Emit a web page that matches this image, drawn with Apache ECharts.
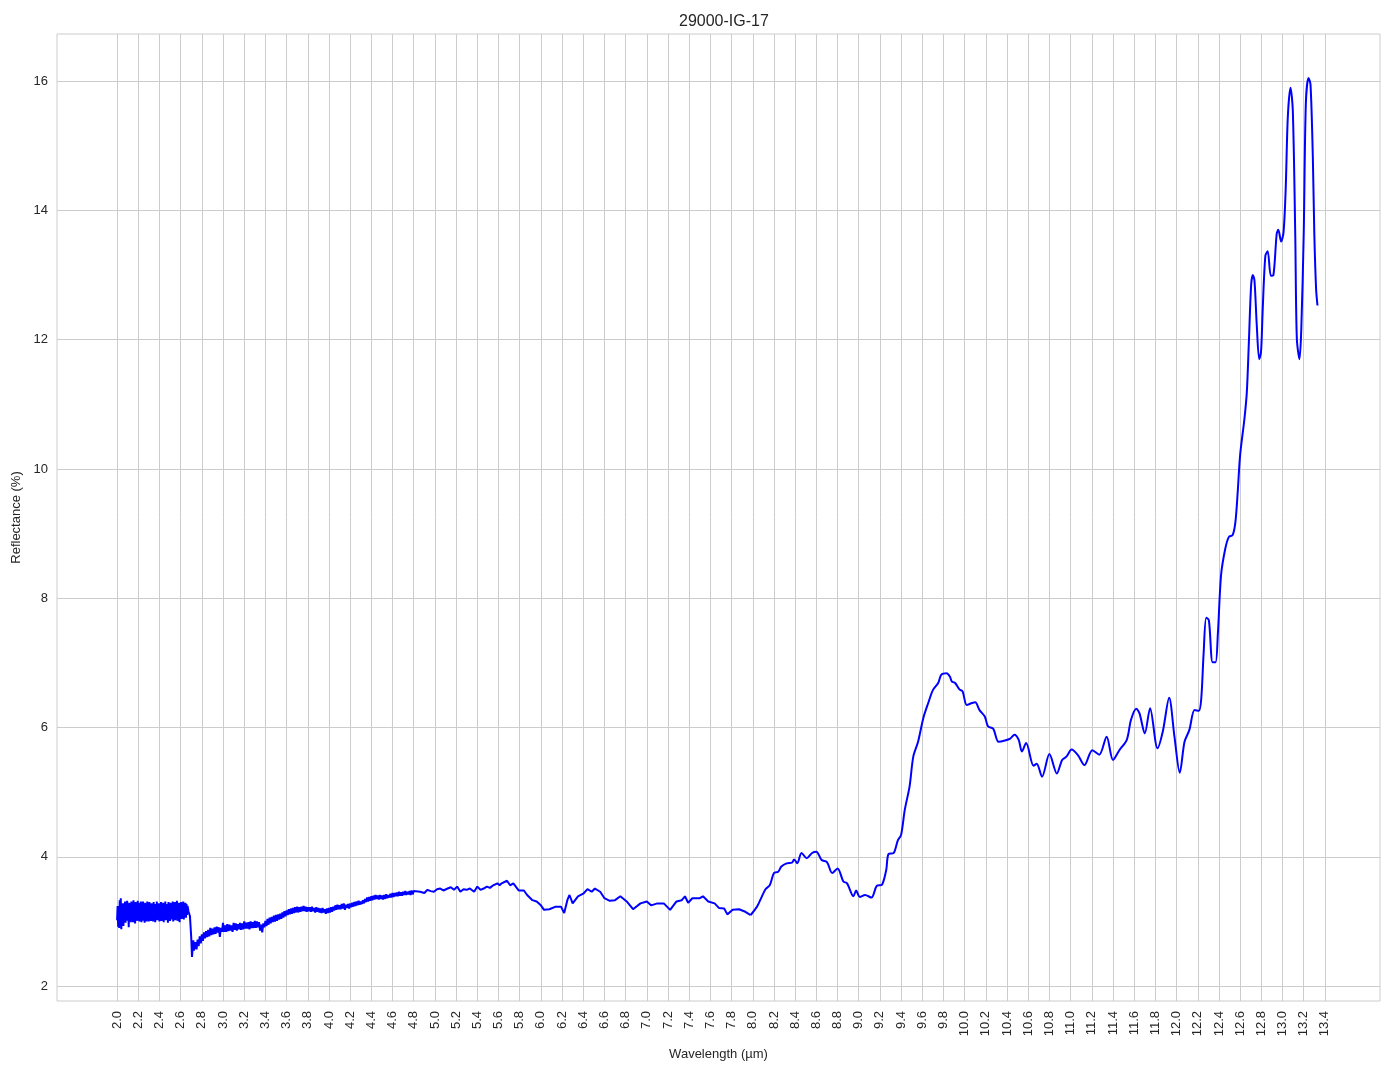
<!DOCTYPE html>
<html>
<head>
<meta charset="utf-8">
<script src="https://cdn.jsdelivr.net/npm/echarts@6/dist/echarts.min.js"></script>
<style>
html,body{margin:0;padding:0;background:#fff;}
#chart{width:1394px;height:1069px;}
</style>
</head>
<body>
<div id="chart"></div>
<script>
// ---- data ----
const chartTitle = '29000-IG-17';
const xName = 'Wavelength (µm)';
const yName = 'Reflectance (%)';

const xTicks = [2.0,2.2,2.4,2.6,2.8,3.0,3.2,3.4,3.6,3.8,4.0,4.2,4.4,4.6,4.8,5.0,5.2,5.4,5.6,5.8,6.0,6.2,6.4,6.6,6.8,7.0,7.2,7.4,7.6,7.8,8.0,8.2,8.4,8.6,8.8,9.0,9.2,9.4,9.6,9.8,10.0,10.2,10.4,10.6,10.8,11.0,11.2,11.4,11.6,11.8,12.0,12.2,12.4,12.6,12.8,13.0,13.2,13.4];
const yTicks = [2,4,6,8,10,12,14,16];

// noisy band 2.000 - 2.665 µm, sampled every 0.005 µm
const bandAStart = 2.0, bandAStep = 0.005;
const bandAValues = [
3.02,3.24,2.92,3.20,2.90,3.33,2.98,3.36,2.88,
3.22,3.02,3.28,2.93,3.25,3.04,3.31,2.98,3.27,3.05,
3.32,3.01,3.25,2.91,3.29,3.03,3.23,2.99,3.31,3.06,
3.28,2.99,3.33,3.02,3.24,2.97,3.30,3.04,3.26,3.01,
3.32,3.03,3.29,3.00,3.25,3.04,3.31,2.99,3.27,3.05,
3.31,3.01,3.24,2.98,3.29,3.05,3.26,3.00,3.31,3.03,
3.26,3.00,3.30,3.04,3.24,3.01,3.28,3.05,3.25,3.00,
3.30,3.03,3.27,2.99,3.25,3.05,3.31,3.02,3.24,3.04,
3.28,3.00,3.26,3.05,3.30,3.01,3.25,3.03,3.29,2.99,
3.25,3.05,3.31,3.02,3.27,3.04,3.24,2.98,3.30,3.05,
3.26,3.01,3.29,3.05,3.25,3.03,3.31,3.00,3.27,3.06,
3.30,3.02,3.25,3.06,3.32,3.01,3.26,3.05,3.29,2.99,
3.28,3.06,3.30,3.04,3.25,3.07,3.31,3.03,3.27,3.08,
3.29,3.06,3.27,3.10,3.24
];

// drop near 2.7 µm
const dropPoints = [[2.675,3.15],[2.688,3.08],[2.700,2.75],[2.707,2.45],[2.715,2.62],[2.720,2.71],[2.725,2.55]];

// band 2.73 - 3.80 µm, sampled every 0.01 µm
const bandBStart = 2.73, bandBStep = 0.01;
const bandBValues = [
2.52,2.68,2.57,2.72,2.62,2.77,2.66,2.80,2.70,2.83,
2.74,2.85,2.76,2.87,2.77,2.90,2.79,2.89,2.80,2.91,
2.81,2.92,2.83,2.91,2.76,2.90,2.84,2.98,2.84,2.94,
2.84,2.96,2.85,2.95,2.86,2.94,2.84,2.98,2.87,2.97,
2.86,2.96,2.88,2.98,2.87,2.97,2.88,3.00,2.89,2.98,
2.89,2.99,2.88,3.00,2.90,2.99,2.90,3.01,2.90,3.00,
2.91,2.99,2.86,2.95,2.83,2.97,2.91,3.01,2.93,3.04,
2.95,3.06,2.97,3.07,2.99,3.09,3.00,3.10,3.01,3.11,
3.03,3.12,3.04,3.14,3.06,3.16,3.08,3.17,3.10,3.19,
3.11,3.20,3.12,3.21,3.13,3.22,3.14,3.23,3.14,3.22,
3.15,3.23,3.16,3.24,3.16,3.23,3.15,3.22
];

// band 3.81 - 4.80 µm, sampled every 0.01 µm
const bandCStart = 3.81, bandCStep = 0.01;
const bandCValues = [
3.16,3.22,3.15,3.23,3.16,3.21,3.14,3.22,3.15,3.21,
3.14,3.20,3.13,3.21,3.14,3.19,3.12,3.20,3.13,3.21,
3.14,3.22,3.15,3.23,3.17,3.25,3.18,3.26,3.19,3.25,
3.19,3.27,3.20,3.28,3.18,3.26,3.21,3.27,3.20,3.28,
3.22,3.29,3.23,3.30,3.24,3.31,3.25,3.32,3.26,3.31,
3.27,3.33,3.28,3.35,3.30,3.37,3.31,3.38,3.32,3.39,
3.33,3.40,3.34,3.41,3.35,3.40,3.34,3.41,3.35,3.40,
3.34,3.41,3.35,3.42,3.36,3.41,3.37,3.43,3.37,3.44,
3.38,3.44,3.39,3.45,3.39,3.46,3.40,3.45,3.40,3.46,
3.41,3.47,3.41,3.46,3.42,3.47,3.41,3.48,3.42,3.47
];

// 4.86 - 7.98 µm
const midPoints = [[4.86,3.46],[4.90,3.44],[4.93,3.49],[4.96,3.47],[4.99,3.46],[5.02,3.50],[5.05,3.51],[5.08,3.48],[5.12,3.51],[5.15,3.53],[5.18,3.49],[5.21,3.54],[5.24,3.46],[5.27,3.50],[5.30,3.49],[5.33,3.51],[5.37,3.46],[5.40,3.54],[5.43,3.49],[5.46,3.51],[5.49,3.54],[5.52,3.52],[5.55,3.56],[5.59,3.59],[5.61,3.56],[5.63,3.59],[5.68,3.63],[5.71,3.56],[5.74,3.59],[5.79,3.48],[5.84,3.48],[5.87,3.41],[5.92,3.33],[5.96,3.31],[6.00,3.25],[6.03,3.18],[6.08,3.19],[6.14,3.23],[6.19,3.23],[6.22,3.13],[6.25,3.33],[6.27,3.41],[6.30,3.28],[6.35,3.39],[6.40,3.43],[6.44,3.50],[6.48,3.46],[6.51,3.51],[6.56,3.46],[6.60,3.36],[6.65,3.32],[6.70,3.33],[6.75,3.39],[6.81,3.31],[6.87,3.19],[6.94,3.28],[7.00,3.31],[7.04,3.25],[7.10,3.28],[7.16,3.28],[7.22,3.18],[7.28,3.31],[7.33,3.33],[7.36,3.39],[7.39,3.29],[7.43,3.36],[7.50,3.36],[7.53,3.39],[7.58,3.31],[7.64,3.28],[7.68,3.21],[7.73,3.20],[7.76,3.11],[7.81,3.18],[7.87,3.19],[7.93,3.15],[7.98,3.10]];

// 7.98 - 13.33 µm (smooth part)
const upperPoints = [[7.98,3.10],[8.04,3.23],[8.07,3.33],[8.12,3.50],[8.16,3.56],[8.20,3.75],[8.24,3.77],[8.27,3.85],[8.32,3.90],[8.37,3.91],[8.39,3.96],[8.42,3.90],[8.46,4.06],[8.51,3.98],[8.56,4.06],[8.60,4.08],[8.65,3.95],[8.70,3.92],[8.75,3.75],[8.80,3.82],[8.855,3.62],[8.89,3.59],[8.95,3.39],[8.975,3.48],[9.01,3.38],[9.06,3.41],[9.12,3.37],[9.17,3.55],[9.22,3.57],[9.26,3.80],[9.28,4.04],[9.33,4.06],[9.37,4.26],[9.40,4.34],[9.435,4.73],[9.48,5.09],[9.515,5.55],[9.56,5.78],[9.61,6.15],[9.656,6.38],[9.70,6.58],[9.75,6.69],[9.78,6.82],[9.83,6.84],[9.86,6.79],[9.88,6.71],[9.91,6.69],[9.95,6.59],[9.98,6.56],[10.02,6.35],[10.07,6.38],[10.10,6.39],[10.14,6.27],[10.19,6.17],[10.22,6.02],[10.27,5.98],[10.32,5.78],[10.38,5.80],[10.43,5.83],[10.47,5.89],[10.51,5.81],[10.54,5.63],[10.58,5.76],[10.65,5.41],[10.68,5.44],[10.73,5.24],[10.80,5.59],[10.87,5.29],[10.92,5.50],[10.96,5.55],[11.01,5.66],[11.07,5.57],[11.13,5.42],[11.205,5.65],[11.27,5.58],[11.34,5.86],[11.40,5.50],[11.46,5.65],[11.53,5.81],[11.57,6.12],[11.62,6.29],[11.65,6.22],[11.70,5.91],[11.75,6.30],[11.82,5.68],[11.87,5.94],[11.93,6.46],[11.98,5.86],[12.03,5.30],[12.075,5.78],[12.12,5.96],[12.17,6.27],[12.21,6.26],[12.233,6.45],[12.255,7.14],[12.28,7.70],[12.305,7.66],[12.34,7.01],[12.368,7.01],[12.39,7.46],[12.42,8.36],[12.46,8.77],[12.494,8.95],[12.53,8.98],[12.556,9.19],[12.578,9.67],[12.60,10.22],[12.64,10.77],[12.663,11.19],[12.682,11.95],[12.704,12.85],[12.72,13.00],[12.735,12.92],[12.757,12.22],[12.78,11.70],[12.797,11.81],[12.813,12.47],[12.838,13.30],[12.86,13.37],[12.89,12.99],[12.914,13.00],[12.945,13.64],[12.96,13.70],[12.987,13.52],[13.01,13.67],[13.03,14.34],[13.05,15.45],[13.075,15.90],[13.097,15.55],[13.12,13.64],[13.135,12.02],[13.16,11.70],[13.177,12.16],[13.20,13.64],[13.22,15.65],[13.245,16.05],[13.264,15.95],[13.286,14.83],[13.30,13.64],[13.317,12.78],[13.33,12.53]];

// ---- build series ----
function band(start, step, vals) {
  return vals.map((v, i) => [+(start + i * step).toFixed(4), v]);
}
const lowerSeries = []
  .concat(band(bandAStart, bandAStep, bandAValues))
  .concat(dropPoints)
  .concat(band(bandBStart, bandBStep, bandBValues))
  .concat(band(bandCStart, bandCStep, bandCValues))
  .concat(midPoints);

const textColor = '#262626';
const gridColor = '#cccccc';
const font = "'Liberation Sans', Arial, 'DejaVu Sans', sans-serif";

const chart = echarts.init(document.getElementById('chart'), null, {renderer: 'canvas'});
chart.setOption({
  animation: false,
  backgroundColor: '#ffffff',
  title: {
    text: chartTitle,
    left: 674,
    top: 9,
    textStyle: {fontFamily: font, fontSize: 16, fontWeight: 'normal', color: textColor}
  },
  grid: {
    left: 57, right: 14, top: 34, bottom: 68,
    show: true, borderColor: gridColor, borderWidth: 1, containLabel: false,
    outerBoundsMode: 'none'
  },
  xAxis: {
    type: 'value',
    min: 1.433, max: 13.92,
    name: xName,
    nameLocation: 'middle',
    nameGap: 47,
    nameTextStyle: {fontFamily: font, fontSize: 13, color: textColor},
    axisLine: {show: false},
    axisTick: {show: false, customValues: xTicks},
    axisLabel: {
      customValues: xTicks,
      rotate: 90,
      margin: 10,
      fontFamily: font, fontSize: 13, color: textColor,
      formatter: v => Number(v).toFixed(1)
    },
    splitLine: {show: true, lineStyle: {color: gridColor, width: 1}}
  },
  yAxis: {
    type: 'value',
    min: 1.77, max: 16.73,
    name: yName,
    nameLocation: 'middle',
    nameGap: 31,
    nameTextStyle: {fontFamily: font, fontSize: 13, color: textColor},
    axisLine: {show: false},
    axisTick: {show: false, customValues: yTicks},
    axisLabel: {
      customValues: yTicks,
      margin: 9,
      fontFamily: font, fontSize: 13, color: textColor
    },
    splitLine: {show: true, lineStyle: {color: gridColor, width: 1}}
  },
  series: [
    {
      type: 'line',
      data: lowerSeries,
      showSymbol: false,
      symbol: 'none',
      lineStyle: {color: '#0000ff', width: 2},
      itemStyle: {color: '#0000ff'},
      smooth: false
    },
    {
      type: 'line',
      data: upperPoints,
      showSymbol: false,
      symbol: 'none',
      lineStyle: {color: '#0000ff', width: 2},
      itemStyle: {color: '#0000ff'},
      smooth: 0.3
    }
  ]
});
</script>
</body>
</html>
